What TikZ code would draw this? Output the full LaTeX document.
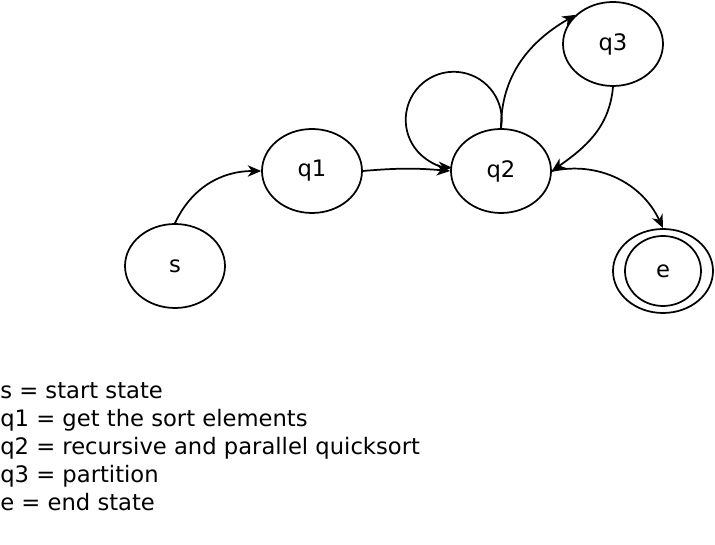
\documentclass[tikz,border=0pt]{standalone}
\usepackage{fontspec}
\setmainfont{DejaVu Sans}
\usetikzlibrary{arrows.meta,shapes.geometric}
\tikzset{
  state/.style={draw, ellipse, line width=1.3pt, minimum width=75pt, minimum height=63pt, inner sep=0pt, font=\fontsize{17}{20}\selectfont},
  endinner/.style={state, minimum width=57pt, minimum height=52.5pt},
  trans/.style={line width=1.3pt, -{Stealth[length=10pt, width=8.5pt, inset=3pt]}}
}

\begin{document}
\begin{tikzpicture}[x=0.75pt, y=0.75pt]
			%%%%% START %%%%%
			\useasboundingbox (0, 0) rectangle (715, 545);
			
			\node[state] (s) at (175, 279) {s};
			\node[state] (q1) at (312, 374) {q1};
			\node[state] (q2) at (501, 374) {q2};
			\node[state] (q3) at (613, 501) {q3};
			\node[state] (e) at (663, 274) {};
			\node[endinner] (e-in) at (e) {e};
			
			\draw[trans] (s.north) to[out=65, in=180] (q1.west);
			\draw[trans] (q1.east) to[bend left=5] (q2.west);
			\draw[trans] (q2.north) arc[start angle=-10, end angle=268, radius=48];
			\draw[trans] (q2.north) to[out=90, in=210] (q3.142);
			\draw[trans] (q3.south) to[out=-95, in=35] (q2.east);
			\draw[trans] (q2.east) to[out=12, in=115] (e.north);
			
			\node[anchor=west, align=left, inner sep=0pt, font=\fontsize{17}{21}\selectfont] (legend) at (0, 98) {s = start state\\q1 = get the sort elements\\q2 = recursive and parallel quicksort\\q3 = partition\\e = end state};
			
			%%%%% END %%%%%
\end{tikzpicture}
\end{document}
